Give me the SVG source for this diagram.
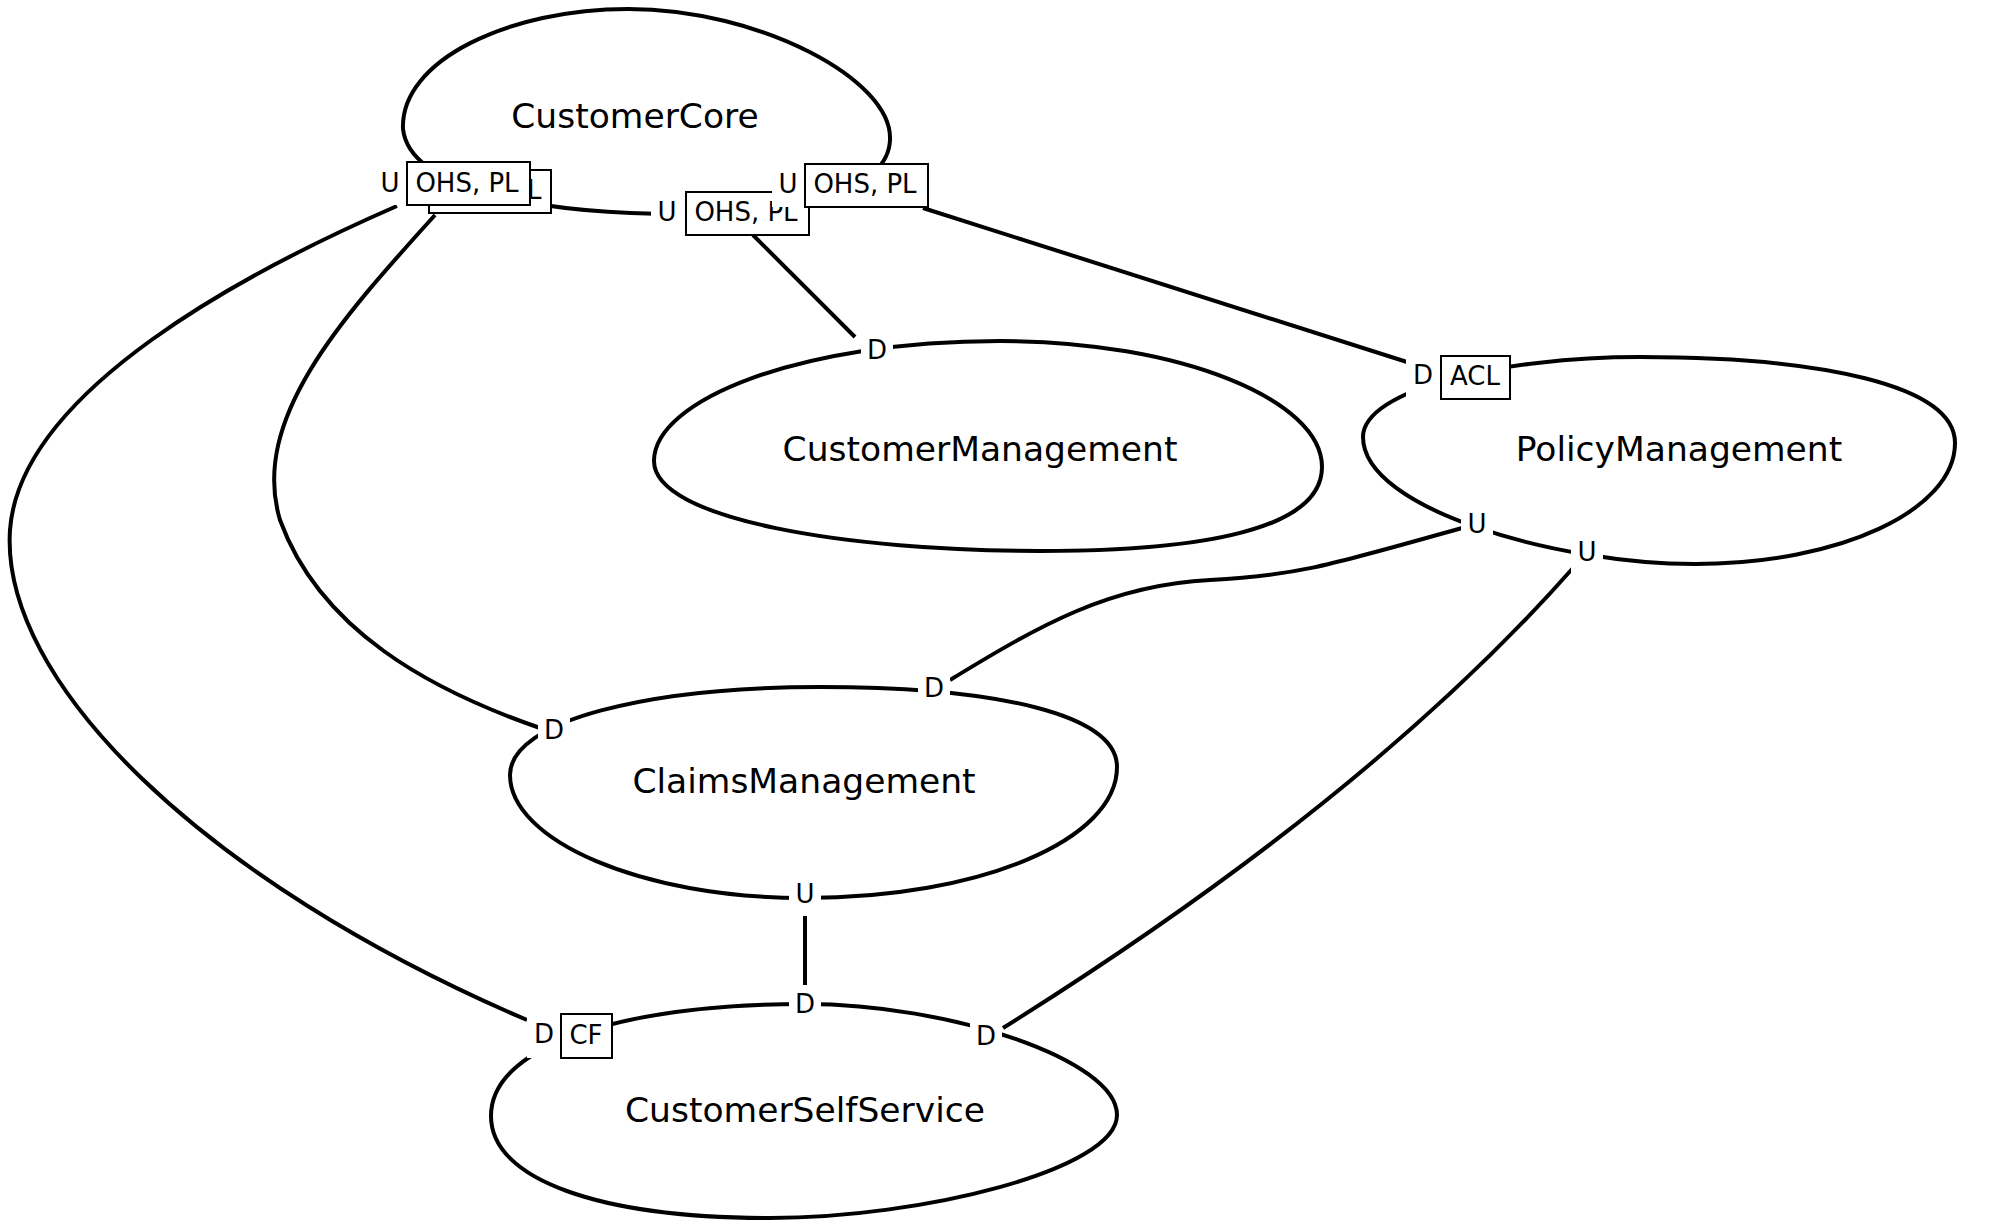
<svg xmlns="http://www.w3.org/2000/svg" width="2000" height="1229" viewBox="0 0 2000 1229">
<style>
.blob{fill:#fff;stroke:#000;stroke-width:4}
.conn{fill:none;stroke:#000;stroke-width:4}
.name{font-family:"DejaVu Sans","Liberation Sans",sans-serif;font-size:34.5px;text-anchor:middle;fill:#000}
.lbl{font-family:"DejaVu Sans","Liberation Sans",sans-serif;font-size:26px;text-anchor:middle;fill:#000}
.bg{fill:#fff}
.box{fill:#fff;stroke:#000;stroke-width:2}
</style>
<rect width="2000" height="1229" fill="#fff"/>
<g id="CustomerCore">
<path class="blob" d="M403,129 C400,60 510,9 628,9 C760,9 893,80 890,140 C888,190 800,214 680,214 C540,214 410,190 403,129 Z"/>
<text class="name" x="635" y="128">CustomerCore</text>
</g>
<g id="CustomerManagement">
<path class="blob" d="M654,461 C654,400 800,341 1000,341 C1180,341 1322,400 1322,467 C1322,530 1200,551 1040,551 C850,551 654,520 654,461 Z"/>
<text class="name" x="980" y="461">CustomerManagement</text>
</g>
<g id="PolicyManagement">
<path class="blob" d="M1363,437 C1363,390 1500,357 1640,357 C1820,357 1955,385 1955,443 C1955,510 1840,564 1695,564 C1560,564 1363,510 1363,437 Z"/>
<text class="name" x="1679" y="461">PolicyManagement</text>
</g>
<g id="ClaimsManagement">
<path class="blob" d="M510,775 C510,720 650,687 820,687 C1000,687 1117,715 1117,767 C1117,840 980,898 805,898 C640,898 510,840 510,775 Z"/>
<text class="name" x="804" y="793">ClaimsManagement</text>
</g>
<g id="CustomerSelfService">
<path class="blob" d="M491,1116 C491,1040 640,1004 805,1004 C950,1004 1117,1060 1117,1115 C1117,1170 920,1218 770,1218 C600,1218 491,1180 491,1116 Z"/>
<text class="name" x="805" y="1122">CustomerSelfService</text>
</g>
<g id="connectors">
<path class="conn" d="M397,206 C250,270 20,390 10,530 C0,680 200,880 527,1020"/>
<path class="conn" d="M435,215 C340,320 250,420 280,520 C320,630 430,690 540,728"/>
<path class="conn" d="M753,235 L855,337"/>
<path class="conn" d="M923,208 L1407,362"/>
<path class="conn" d="M1462,528 C1330,565 1300,575 1210,580 C1110,585 1040,625 950,680"/>
<path class="conn" d="M1573,568 Q1369,799 1003,1028"/>
<path class="conn" d="M805,915 L805,987"/>
</g>
<g id="labels">
<rect class="box" x="429" y="170" width="122" height="43"/>
<text class="lbl" x="490" y="199">OHS, PL</text>
<rect class="bg" x="374" y="161" width="33" height="44"/>
<text class="lbl" x="390" y="192">U</text>
<rect class="box" x="407" y="162" width="123" height="43"/>
<text class="lbl" x="467" y="192">OHS, PL</text>
<rect class="bg" x="651" y="191" width="35" height="44"/>
<text class="lbl" x="667" y="221">U</text>
<rect class="box" x="686" y="192" width="123" height="43"/>
<text class="lbl" x="746" y="221">OHS, PL</text>
<rect class="bg" x="772" y="164" width="33" height="43"/>
<text class="lbl" x="788" y="193">U</text>
<rect class="box" x="805" y="164" width="123" height="43"/>
<text class="lbl" x="865" y="193">OHS, PL</text>
<rect class="bg" x="861" y="329" width="32" height="43"/>
<text class="lbl" x="877" y="359">D</text>
<rect class="bg" x="1406" y="356" width="34" height="43"/>
<text class="lbl" x="1423" y="384">D</text>
<rect class="box" x="1441" y="356" width="69" height="43"/>
<text class="lbl" x="1475" y="385">ACL</text>
<rect class="bg" x="1461" y="503" width="32" height="43"/>
<text class="lbl" x="1477" y="533">U</text>
<rect class="bg" x="1571" y="531" width="32" height="43"/>
<text class="lbl" x="1587" y="561">U</text>
<rect class="bg" x="538" y="709" width="32" height="43"/>
<text class="lbl" x="554" y="739">D</text>
<rect class="bg" x="918" y="667" width="32" height="43"/>
<text class="lbl" x="934" y="697">D</text>
<rect class="bg" x="789" y="873" width="32" height="43"/>
<text class="lbl" x="805" y="903">U</text>
<rect class="bg" x="789" y="985" width="32" height="40"/>
<text class="lbl" x="805" y="1013">D</text>
<rect class="bg" x="527" y="1014" width="34" height="44"/>
<text class="lbl" x="544" y="1043">D</text>
<rect class="box" x="561" y="1014" width="51" height="44"/>
<text class="lbl" x="586" y="1044">CF</text>
<rect class="bg" x="970" y="1015" width="32" height="43"/>
<text class="lbl" x="986" y="1045">D</text>
</g>
</svg>
